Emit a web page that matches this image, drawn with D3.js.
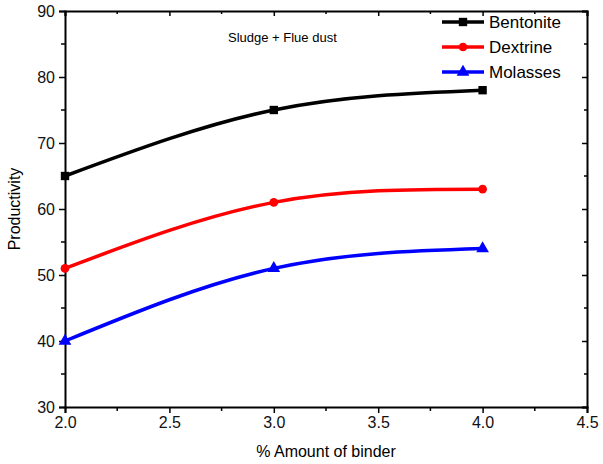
<!DOCTYPE html>
<html>
<head>
<meta charset="utf-8">
<script src="https://cdn.jsdelivr.net/npm/d3@7"></script>
<style>
  body { margin: 0; background: #fff; }
  text { font-family: "Liberation Sans", Arial, sans-serif; }
  .tick text { font-size: 16px; }
</style>
</head>
<body>
<div id="chart"></div>
<script>
// data
var binder = [2.0, 3.0, 4.0];
var bentonite = [65, 75, 78];
var dextrine = [51, 61, 63];
var molasses = [40, 51, 54];
var xTicks = [2.0, 2.5, 3.0, 3.5, 4.0, 4.5];
var yTicks = [30, 40, 50, 60, 70, 80, 90];

var series = [
  {name: "Bentonite", values: bentonite, color: "#000000", shape: d3.symbolSquare},
  {name: "Dextrine", values: dextrine, color: "#ff0000", shape: d3.symbolCircle},
  {name: "Molasses", values: molasses, color: "#0000ff", shape: d3.symbolTriangle}
];

var margin = {top: 11, right: 16, bottom: 57, left: 65},
    width = 603 - margin.left - margin.right,
    height = 464 - margin.top - margin.bottom;

var svg = d3.select("#chart")
  .append("svg")
    .attr("width", 603)
    .attr("height", 464)
  .append("g")
    .attr("transform", "translate(" + margin.left + "," + margin.top + ")");

var x = d3.scaleLinear().domain([2.0, 4.5]).range([0, width]);
var y = d3.scaleLinear().domain([30, 90]).range([height, 0]);

var minorX = d3.range(2.25, 4.5, 0.5);
var minorY = d3.range(35, 90, 10);

// bottom axis
var bottomAx = svg.append("g")
  .attr("transform", "translate(0," + height + ")")
  .call(d3.axisBottom(x).tickValues(xTicks).tickFormat(d3.format(".1f")).tickSize(6).tickPadding(4));
bottomAx.append("g").selectAll("line").data(minorX).enter().append("line")
  .attr("x1", function(d) { return x(d); }).attr("x2", function(d) { return x(d); })
  .attr("y1", 0).attr("y2", 4).attr("stroke", "#000").attr("stroke-width", 1.5);

// left axis
var leftAx = svg.append("g")
  .call(d3.axisLeft(y).tickValues(yTicks).tickSize(6).tickPadding(4));
leftAx.append("g").selectAll("line").data(minorY).enter().append("line")
  .attr("y1", function(d) { return y(d); }).attr("y2", function(d) { return y(d); })
  .attr("x1", 0).attr("x2", -4).attr("stroke", "#000").attr("stroke-width", 1.5);

// top and right axes, inward ticks
var topAx = svg.append("g")
  .call(d3.axisTop(x).tickValues(xTicks).tickSize(-5).tickFormat(""));
var rightAx = svg.append("g")
  .attr("transform", "translate(" + width + ",0)")
  .call(d3.axisRight(y).tickValues(yTicks).tickSize(-5).tickFormat(""));
topAx.append("g").selectAll("line").data(minorX).enter().append("line")
  .attr("x1", function(d) { return x(d); }).attr("x2", function(d) { return x(d); })
  .attr("y1", 0).attr("y2", 3).attr("stroke", "#000").attr("stroke-width", 1.5);
rightAx.append("g").selectAll("line").data(minorY).enter().append("line")
  .attr("y1", function(d) { return y(d); }).attr("y2", function(d) { return y(d); })
  .attr("x1", 0).attr("x2", -3).attr("stroke", "#000").attr("stroke-width", 1.5);

[bottomAx, leftAx, topAx, rightAx].forEach(function(a) {
  a.attr("font-size", 16).attr("font-family", "Liberation Sans, Arial, sans-serif");
  a.select(".domain").attr("stroke-width", 2);
  a.selectAll(".tick line").attr("stroke-width", 1.5);
  a.selectAll(".tick text").attr("fill", "#111");
});

// lines
var line = d3.line()
  .x(function(d, i) { return x(binder[i]); })
  .y(function(d) { return y(d); })
  .curve(d3.curveNatural);

series.forEach(function(s) {
  svg.append("path")
    .datum(s.values)
    .attr("d", line)
    .attr("fill", "none")
    .attr("stroke", s.color)
    .attr("stroke-width", 3.5);
  svg.append("g").selectAll("path").data(s.values).enter().append("path")
    .attr("d", d3.symbol().type(s.shape).size(s.shape === d3.symbolCircle ? 60 : 70))
    .attr("transform", function(d, i) { return "translate(" + x(binder[i]) + "," + y(d) + ")"; })
    .attr("fill", s.color);
});

// legend
var legend = svg.append("g").attr("transform", "translate(" + (442 - margin.left) + "," + (22 - margin.top) + ")");
series.forEach(function(s, i) {
  var g = legend.append("g").attr("transform", "translate(0," + (i * 25) + ")");
  g.append("line").attr("x1", 0).attr("x2", 42).attr("y1", 0).attr("y2", 0)
    .attr("stroke", s.color).attr("stroke-width", 3.5);
  g.append("path")
    .attr("d", d3.symbol().type(s.shape).size(s.shape === d3.symbolCircle ? 60 : 70))
    .attr("transform", "translate(21,0)")
    .attr("fill", s.color);
  g.append("text").attr("x", 47).attr("y", 6)
    .style("font-size", "17px").text(s.name);
});

// annotation
svg.append("text")
  .attr("x", 228 - margin.left)
  .attr("y", 42 - margin.top)
  .style("font-size", "13px")
  .text("Sludge + Flue dust");

// axis labels
svg.append("text")
  .attr("x", width / 2)
  .attr("y", height + 50)
  .attr("text-anchor", "middle")
  .style("font-size", "16px")
  .text("% Amount of binder");

svg.append("text")
  .attr("transform", "rotate(-90)")
  .attr("x", -height / 2)
  .attr("y", -45)
  .attr("text-anchor", "middle")
  .style("font-size", "16px")
  .text("Productivity");
</script>
</body>
</html>
